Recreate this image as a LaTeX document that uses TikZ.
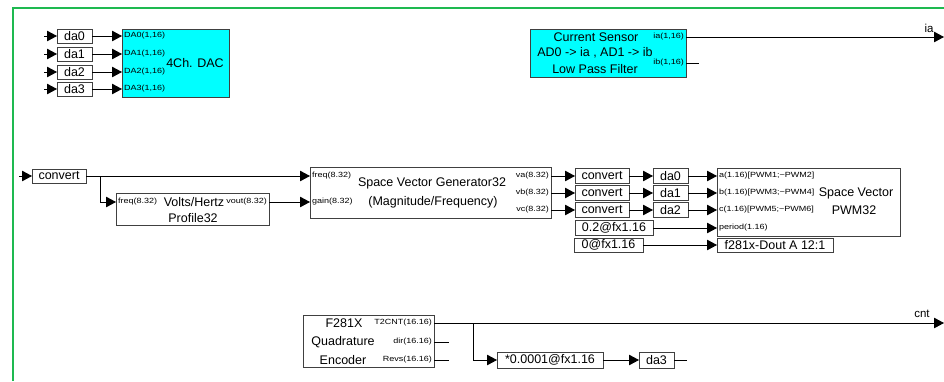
\documentclass[tikz,border=0pt]{standalone}
\usepackage{fontspec}
\setmainfont{Liberation Sans}
\newfontfamily\portfont[FakeStretch=1.2]{Liberation Sans}
\usetikzlibrary{arrows.meta}
\definecolor{frame}{RGB}{30,185,80}
\definecolor{boxcyan}{RGB}{0,255,255}
\begin{document}
\begin{tikzpicture}[x=1pt,y=-1pt,
  blk/.style={draw=black!75, line width=0.9pt, inner sep=0pt, outer sep=0pt, font=\fontsize{12.5}{14}\selectfont},
  cyanbox/.style={blk, fill=boxcyan},
  lbl/.style={inner sep=0pt, font=\fontsize{12.5}{14}\selectfont},
  prt/.style={inner sep=0pt, font=\portfont\fontsize{7.5}{9}\selectfont},
  wire/.style={line width=0.9pt, draw=black},
  arr/.style={wire, -{Triangle[length=10pt,width=10.5pt]}},
]
\useasboundingbox (0,0) rectangle (944,381);
\draw[frame, line width=2pt] (13,381) -- (13,8) -- (944,8);

% ---------- DAC group ----------
\foreach \n/\y in {0/36,1/54,2/72,3/89}{
  \node[blk, minimum width=35pt, minimum height=14pt] (da\n) at (74.5,\y) {da\n};
  \coordinate (din\n) at (44,\y);
}
\node[cyanbox, minimum width=107pt, minimum height=68pt] (dac) at (175.5,63) {};
\foreach \n/\y in {0/36,1/54,2/72,3/89}{
  \node[prt, anchor=west] (dacp\n) at (124,\y) {DA\n(1,16)};
  \draw[arr] (din\n) -- (da\n.west);
  \draw[arr] (da\n.east) -- (da\n.east -| dac.west);
}
\node[lbl] (dact) at (195,63) {4Ch. DAC};

% ---------- Current sensor ----------
\node[cyanbox, minimum width=156pt, minimum height=48pt] (cs) at (608,53) {};
\node[lbl] (cs1) at (596,37) {Current Sensor};
\node[lbl] (cs2) at (595,53) {AD0 -> ia , AD1 -> ib};
\node[lbl] (cs3) at (595,69) {Low Pass Filter};
\node[prt, anchor=east] (csia) at (684,37) {ia(1,16)};
\node[prt, anchor=east] (csib) at (684,63) {ib(1,16)};
\coordinate (iaout) at (944,37);
\coordinate (ibend) at (699,63);
\draw[arr] (cs.east |- iaout) -- (iaout);
\draw[wire] (cs.east |- ibend) -- (ibend);
\node[lbl, font=\fontsize{11.5}{13}\selectfont] (ialbl) at (929,28) {ia};

% ---------- convert / V/Hz / SVG ----------
\coordinate (cvin) at (19,176);
\node[blk, minimum width=54pt, minimum height=14pt] (cv) at (59,176) {convert};
\draw[arr] (cvin) -- (cv.west);
\node[blk, minimum width=153pt, minimum height=32pt] (vhz) at (192.5,209) {};
\node[prt, anchor=west] (vhzf) at (118,202) {freq(8.32)};
\node[lbl] (vhz1) at (194,202) {Volts/Hertz};
\node[prt, anchor=east] (vhzo) at (267,202) {vout(8.32)};
\node[lbl] (vhz2) at (193,218) {Profile32};

\node[blk, minimum width=241pt, minimum height=51pt] (svg) at (430.5,192.5) {};
\node[prt, anchor=west] (svgf) at (312,176) {freq(8.32)};
\node[prt, anchor=west] (svgg) at (312,202) {gain(8.32)};
\node[prt, anchor=east] (svga) at (549,176) {va(8.32)};
\node[prt, anchor=east] (svgb) at (549,193) {vb(8.32)};
\node[prt, anchor=east] (svgc) at (549,210) {vc(8.32)};
\node[lbl] (svg1) at (432,183) {Space Vector Generator32};
\node[lbl] (svg2) at (433,202) {(Magnitude/Frequency)};

\coordinate (br1) at (100,176);
\coordinate (br2) at (100,202);
\draw[arr] (cv.east) -- (cv.east -| svg.west);
\draw[arr] (br1) -- (br2) -- (br2 -| vhz.west);
\draw[arr] (vhz.east |- br2) -- (br2 -| svg.west);

% ---------- right chain ----------
\node[blk, minimum width=183pt, minimum height=68pt] (pwm) at (808.5,202) {};
\foreach \n/\y in {0/176,1/193,2/210}{
  \node[blk, minimum width=54pt, minimum height=15pt] (cvr\n) at (602,\y) {convert};
  \node[blk, minimum width=35pt, minimum height=15pt] (dr\n) at (670.5,\y) {da\n};
  \draw[arr] (svg.east |- cvr\n) -- (cvr\n.west);
  \draw[arr] (cvr\n.east) -- (dr\n.west);
  \draw[arr] (dr\n.east) -- (dr\n.east -| pwm.west);
}
\node[prt, anchor=west] (pwma) at (719,176) {a(1.16)[PWM1;\textasciitilde PWM2]};
\node[prt, anchor=west] (pwmb) at (719,193) {b(1.16)[PWM3;\textasciitilde PWM4]};
\node[prt, anchor=west] (pwmc) at (719,210) {c(1.16)[PWM5;\textasciitilde PWM6]};
\node[prt, anchor=west] (pwmp) at (719,228) {period(1.16)};
\node[lbl] (pwm1) at (856,193) {Space Vector};
\node[lbl] (pwm2) at (854,210) {PWM32};

\node[blk, minimum width=78pt, minimum height=15pt] (c02) at (614,228) {0.2@fx1.16};
\node[blk, minimum width=69pt, minimum height=14pt] (c00) at (608.5,245) {0@fx1.16};
\node[blk, minimum width=116pt, minimum height=14pt] (dout) at (775,245) {f281x-Dout A 12:1};
\draw[arr] (c02.east) -- (c02.east -| pwm.west);
\draw[arr] (c00.east) -- (dout.west);

% ---------- encoder ----------
\node[blk, minimum width=131pt, minimum height=52pt] (enc) at (368.5,341) {};
\node[lbl] (enc1) at (344,323) {F281X};
\node[lbl] (enc2) at (343,342) {Quadrature};
\node[lbl] (enc3) at (343,360) {Encoder};
\node[prt, anchor=east] (encc) at (432,323) {T2CNT(16.16)};
\node[prt, anchor=east] (encd) at (432,342) {dir(16.16)};
\node[prt, anchor=east] (encr) at (432,360) {Revs(16.16)};
\coordinate (cntout) at (944,323);
\coordinate (dirend) at (449,342);
\coordinate (revend) at (449,360);
\draw[arr] (enc.east |- cntout) -- (cntout);
\draw[wire] (enc.east |- dirend) -- (dirend);
\draw[wire] (enc.east |- revend) -- (revend);
\node[lbl, font=\fontsize{11.5}{13}\selectfont] (cntlbl) at (922,314) {cnt};

\node[blk, minimum width=106pt, minimum height=16pt] (scl) at (550,360) {*0.0001@fx1.16};
\node[blk, minimum width=35pt, minimum height=16pt] (da3b) at (656.5,360) {da3};
\coordinate (br3) at (473,323);
\coordinate (br4) at (473,360);
\coordinate (da3end) at (687,360);
\draw[arr] (br3) -- (br4) -- (scl.west);
\draw[arr] (scl.east) -- (da3b.west);
\draw[wire] (da3b.east) -- (da3end);
\end{tikzpicture}
\end{document}
